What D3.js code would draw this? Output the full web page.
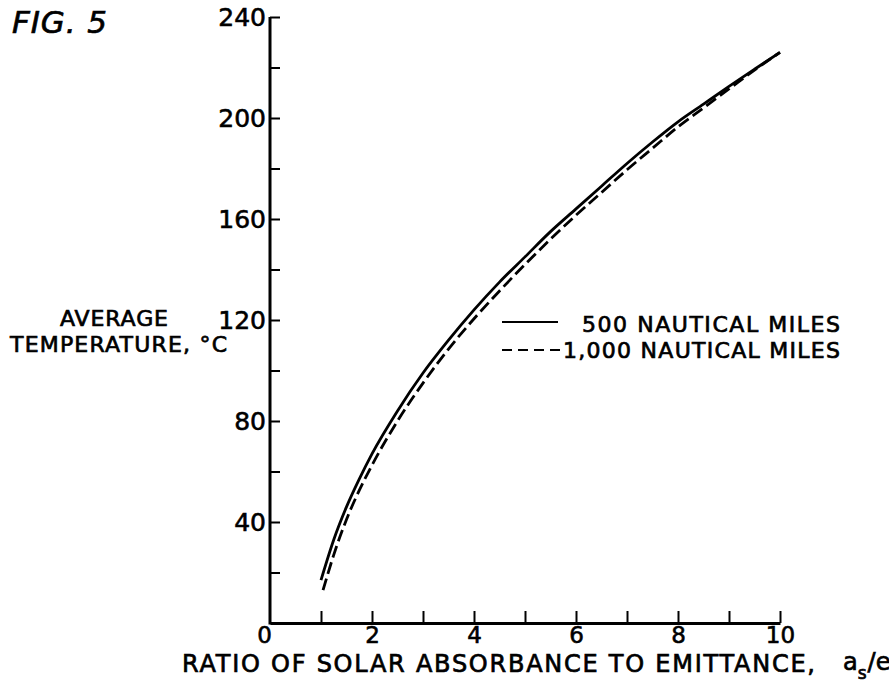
<head>
    <meta charset="utf-8">
    <title>Fig. 5 average temperature vs ratio</title>
    <script src="https://cdn.jsdelivr.net/npm/d3@7"></script>
</head>

<body style="margin:0; background:#fff;">

<div id="container"></div>

<script type="text/javascript">
    // curve readings (ratio a_s/e -> average temperature, deg C)
    const ratio500 = [1.0, 1.25, 1.5, 1.75, 2.0, 2.5, 3.0, 3.5, 4.0, 4.5, 5.0, 5.5, 6.0, 6.5, 7.0, 7.5, 8.0, 8.5, 9.0, 9.5, 10.0];
    const temp500 = [17, 33, 46, 57, 67, 84, 99, 112, 124, 135, 145, 155, 164, 173, 182, 190.5, 198.5, 205.5, 212.5, 219.3, 226];
    const ratio1000 = [1.04, 1.25, 1.5, 1.75, 2.0, 2.5, 3.0, 3.5, 4.0, 4.5, 5.0, 5.5, 6.0, 6.5, 7.0, 7.5, 8.0, 8.5, 9.0, 9.5, 10.0];
    const temp1000 = [13, 27, 41, 52.5, 62.5, 80, 95, 108.5, 120.5, 131.5, 142, 152, 161.5, 170.5, 179.5, 188, 196.5, 204, 211.5, 219, 226];

    const xTicks = [0, 1, 2, 3, 4, 5, 6, 7, 8, 9, 10];
    const yTicks = [20, 40, 60, 80, 100, 120, 140, 160, 180, 200, 220, 240];
    const seriesNames = ["500 NAUTICAL MILES", "1,000 NAUTICAL MILES"];

    const W = 889, H = 691;
    const margin = {top: 17, right: 109, bottom: 68, left: 270};
    const font = "'DejaVu Sans', sans-serif";

    const svg = d3.select("#container")
        .append("svg")
        .attr("width", W)
        .attr("height", H)
        .style("font-family", font);

    const x = d3.scaleLinear().domain([0, 10]).range([margin.left, W - margin.right]);
    const y = d3.scaleLinear().domain([0, 240]).range([H - margin.bottom, margin.top]);

    // x axis, ticks pointing up, labels only on even values
    const gx = svg.append("g")
        .attr("transform", `translate(0,${y(0)})`)
        .call(d3.axisBottom(x)
            .tickValues(xTicks)
            .tickSizeInner(-12)
            .tickSizeOuter(0)
            .tickPadding(4)
            .tickFormat(d => d % 2 === 0 ? d : ""));

    // y axis, ticks pointing right, labels every 40
    const gy = svg.append("g")
        .attr("transform", `translate(${x(0)},0)`)
        .call(d3.axisLeft(y)
            .tickValues(yTicks)
            .tickSizeInner(-10)
            .tickSizeOuter(0)
            .tickPadding(4)
            .tickFormat(d => d % 40 === 0 ? d : ""));

    [gx, gy].forEach(g => {
        g.select(".domain").attr("stroke", "#000").attr("stroke-width", 3);
        g.selectAll(".tick line").attr("stroke", "#000").attr("stroke-width", 2);
        g.selectAll(".tick text")
            .attr("fill", "#000")
            .attr("stroke", "#000")
            .attr("stroke-width", 0.6)
            .style("font-family", font)
            .style("font-size", "25px");
    });
    gx.selectAll(".tick text").style("font-size", "23px");
    gx.selectAll(".tick").filter(d => d === 0).select("line").remove();
    gx.selectAll(".tick").filter(d => d === 0).select("text").attr("dx", -6);
    gy.select(".domain").attr("d", `M0,${y(0) + 1.5}V${y(240)}`);

    // the two curves
    const line = d3.line()
        .x(d => x(d[0]))
        .y(d => y(d[1]))
        .curve(d3.curveMonotoneX);

    svg.append("path")
        .datum(ratio500.map((r, i) => [r, temp500[i]]))
        .attr("d", line)
        .attr("fill", "none")
        .attr("stroke", "#000")
        .attr("stroke-width", 2.8);

    svg.append("path")
        .datum(ratio1000.map((r, i) => [r, temp1000[i]]))
        .attr("d", line)
        .attr("fill", "none")
        .attr("stroke", "#000")
        .attr("stroke-width", 2.8)
        .attr("stroke-dasharray", "12,5");

    // text helper: bolder strokes like the lettering
    const label = (sel) => sel.attr("fill", "#000").attr("stroke", "#000").attr("stroke-width", 0.7);

    // legend
    const legend = svg.append("g").style("font-size", "22px");
    legend.append("line")
        .attr("x1", 502).attr("x2", 558).attr("y1", 322).attr("y2", 322)
        .attr("stroke", "#000").attr("stroke-width", 2.2);
    legend.append("line")
        .attr("x1", 502).attr("x2", 563).attr("y1", 350).attr("y2", 350)
        .attr("stroke", "#000").attr("stroke-width", 2.2)
        .attr("stroke-dasharray", "10,6");
    legend.append("text")
        .attr("x", 582).attr("y", 332)
        .attr("textLength", 258).attr("lengthAdjust", "spacing")
        .call(label)
        .text(seriesNames[0]);
    legend.append("text")
        .attr("x", 563).attr("y", 358)
        .attr("textLength", 277).attr("lengthAdjust", "spacing")
        .call(label)
        .text(seriesNames[1]);

    // y axis title
    svg.append("text")
        .attr("x", 60).attr("y", 326)
        .attr("textLength", 108).attr("lengthAdjust", "spacing")
        .style("font-size", "22px")
        .call(label)
        .text("AVERAGE");
    svg.append("text")
        .attr("x", 10).attr("y", 352)
        .attr("textLength", 217).attr("lengthAdjust", "spacing")
        .style("font-size", "22px")
        .call(label)
        .text("TEMPERATURE, °C");

    // x axis title
    svg.append("text")
        .attr("x", 182).attr("y", 672)
        .attr("textLength", 633).attr("lengthAdjust", "spacing")
        .style("font-size", "24px")
        .call(label)
        .text("RATIO OF SOLAR ABSORBANCE TO EMITTANCE,");
    const sym = svg.append("text")
        .attr("x", 843).attr("y", 670)
        .style("font-size", "24px")
        .call(label);
    sym.append("tspan").text("a");
    sym.append("tspan").attr("dy", 9).style("font-size", "17px").text("s");
    sym.append("tspan").attr("dy", -9).attr("dx", 1).text("/e");

    // figure number
    svg.append("text")
        .attr("x", 12).attr("y", 33)
        .attr("textLength", 95).attr("lengthAdjust", "spacing")
        .style("font-size", "31px")
        .style("font-style", "italic")
        .call(label)
        .text("FIG. 5");
</script>
</body>
